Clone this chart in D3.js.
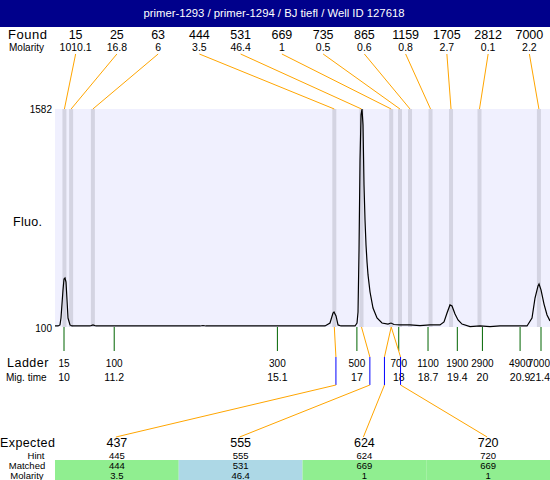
<!DOCTYPE html>
<html>
<head>
<meta charset="utf-8">
<script src="https://cdn.jsdelivr.net/npm/d3@7"></script>
<style>
  body { margin: 0; background: #fff; }
  svg { display: block; font-family: "Liberation Sans", Arial, sans-serif; }
</style>
</head>
<body>
<svg id="chart"></svg>
<script>
// header
let title = "primer-1293 / primer-1294 / BJ tiefl / Well ID 127618";

// found peaks
let foundSizes = [15, 25, 63, 444, 531, 669, 735, 865, 1159, 1705, 2812, 7000];
let foundMolarity = ["1010.1", "16.8", "6", "3.5", "46.4", "1", "0.5", "0.6", "0.8", "2.7", "0.1", "2.2"];
let foundTimes = [10.01, 10.17, 10.69, 16.46, 17.11, 17.82, 18.03, 18.27, 18.76, 19.25, 19.93, 21.35];

// ladder
let ladderSizes = [15, 100, 300, 500, 700, 1100, 1900, 2900, 4900, 7000];
let ladderTimes = [10, 11.2, 15.1, 17, 18, 18.7, 19.4, 20, 20.9, 21.4];

// expected fragments
let expected = [437, 555, 624, 720];
let hint = [445, 555, 624, 720];
let matched = [444, 531, 669, 669];
let matchedMolarity = ["3.5", "46.4", "1", "1"];
let matchStatus = ["ok", "shift", "ok", "ok"];

// fluorescence trace (migration time, fluorescence)
let traceTime = [9.785, 9.857, 9.904, 9.928, 9.976, 10.0, 10.024, 10.048, 10.072, 10.096, 10.143, 10.191,
  10.621, 10.693, 10.765, 13.25, 13.322, 13.394, 16.238, 16.357, 16.429, 16.453, 16.501, 16.549, 16.62,
  16.955, 17.003, 17.027, 17.051, 17.075, 17.099, 17.122, 17.146, 17.17, 17.194, 17.218, 17.242, 17.266, 17.314,
  17.385, 17.481, 17.6, 17.743, 17.815, 17.887, 18.03, 18.269, 18.508, 18.747, 18.986, 19.082, 19.154, 19.225,
  19.273, 19.345, 19.417, 19.512, 19.704, 19.943, 20.181, 20.42, 20.779, 21.066, 21.185, 21.257, 21.329, 21.353,
  21.4, 21.472, 21.544, 21.615];
let traceFluo = [107, 107, 114, 161, 352, 426, 433, 406, 284, 161, 114, 107,
  107, 114, 107, 107, 110, 107, 107, 127, 195, 202, 175, 114, 107,
  107, 127, 202, 624, 1236, 1542, 1582, 1474, 1066, 828, 658, 542, 454, 338,
  229, 161, 127, 120, 127, 117, 114, 114, 110, 114, 114, 134, 195, 250,
  243, 188, 148, 120, 103, 107, 103, 107, 107, 107, 161, 297, 379, 392,
  352, 256, 182, 141];

let width = 550;
let height = 480;
let left = 55;
let right = 550;
let plotTop = 109;
let plotBottom = 327;

let orange = "#ffa500";

let svg = d3.select("#chart").attr("width", width).attr("height", height);

let xScale = d3.scaleLinear().domain([10, 21.4]).range([64, 541]);
let yScale = d3.scaleLinear().domain([100, 1582]).range([plotBottom, plotTop]);
let sizeToTime = d3.scaleLog().domain(ladderSizes).range(ladderTimes);

let foundCols = d3.scaleBand().domain(d3.range(foundSizes.length)).range([left, right]);
let expCols = d3.scaleBand().domain(d3.range(expected.length)).range([left, right]);

//keep a centered label inside the picture
function clampRight(sel) {
  sel.each(function () {
    let w = this.getComputedTextLength();
    let x = +this.getAttribute("x");
    if (x + w / 2 > width) this.setAttribute("x", width - w / 2);
  });
}

//header bar
svg.append("rect").attr("x", 0).attr("y", 0).attr("width", width).attr("height", 27).attr("fill", "#00008b");
svg.append("text").attr("x", 274).attr("y", 17).attr("text-anchor", "middle")
  .attr("fill", "#fff").style("font-size", "11.3px").text(title);

//found rows
svg.append("text").attr("x", 8).attr("y", 39).style("font-size", "13px").style("letter-spacing", "0.5px").text("Found");
svg.append("text").attr("x", 9).attr("y", 51).style("font-size", "10px").text("Molarity");

svg.selectAll(".found").data(foundSizes).join("text")
  .attr("class", "found")
  .attr("x", (d, i) => foundCols(i) + foundCols.bandwidth() / 2)
  .attr("y", 39).attr("text-anchor", "middle").style("font-size", "12.5px")
  .text((d) => d);

svg.selectAll(".fmol").data(foundMolarity).join("text")
  .attr("class", "fmol")
  .attr("x", (d, i) => foundCols(i) + foundCols.bandwidth() / 2)
  .attr("y", 51).attr("text-anchor", "middle").style("font-size", "10.5px")
  .text((d) => d);

//plot background
svg.append("rect").attr("x", left).attr("y", plotTop)
  .attr("width", right - left).attr("height", plotBottom - plotTop).attr("fill", "#f0f0fe");

//peak bands
svg.selectAll(".band").data(foundTimes).join("rect")
  .attr("class", "band")
  .attr("x", (d) => xScale(d) - 2).attr("y", plotTop)
  .attr("width", 4).attr("height", plotBottom - plotTop)
  .attr("fill", "#d4d4e2");

//found connectors
svg.selectAll(".fline").data(foundTimes).join("line")
  .attr("class", "fline")
  .attr("x1", (d, i) => foundCols(i) + foundCols.bandwidth() / 2)
  .attr("y1", 54)
  .attr("x2", (d) => xScale(d)).attr("y2", plotTop)
  .attr("stroke", orange).attr("stroke-width", 1);

//y labels
svg.append("text").attr("x", 52).attr("y", 113).attr("text-anchor", "end").style("font-size", "10px").text("1582");
svg.append("text").attr("x", 52).attr("y", 332).attr("text-anchor", "end").style("font-size", "10px").text("100");
svg.append("text").attr("x", 13).attr("y", 226).style("font-size", "12.5px").style("letter-spacing", "0.3px").text("Fluo.");

//trace
let trace = traceTime.map((t, i) => ({ t: t, f: traceFluo[i] }));
svg.append("path").datum(trace)
  .attr("fill", "none").attr("stroke", "#000").attr("stroke-width", 1.2)
  .attr("d", d3.line().x((d) => xScale(d.t)).y((d) => yScale(d.f)));

//ladder
svg.selectAll(".lline").data(ladderTimes).join("line")
  .attr("class", "lline")
  .attr("x1", (d) => xScale(d)).attr("x2", (d) => xScale(d))
  .attr("y1", plotBottom).attr("y2", 351)
  .attr("stroke", "#006400").attr("stroke-width", 1);

svg.append("text").attr("x", 7).attr("y", 367).style("font-size", "12.5px").style("letter-spacing", "0.5px").text("Ladder");
svg.append("text").attr("x", 6).attr("y", 381).style("font-size", "10px").text("Mig. time");

svg.selectAll(".lsize").data(ladderSizes).join("text")
  .attr("class", "lsize")
  .attr("x", (d, i) => xScale(ladderTimes[i]))
  .attr("y", 367).attr("text-anchor", "middle").style("font-size", "10px")
  .text((d) => d)
  .call(clampRight);

svg.selectAll(".ltime").data(ladderTimes).join("text")
  .attr("class", "ltime")
  .attr("x", (d) => xScale(d))
  .attr("y", 381).attr("text-anchor", "middle").style("font-size", "10.5px")
  .text((d) => d)
  .call(clampRight);

//expected connectors
expected.forEach((e, i) => {
  let peakX = xScale(foundTimes[foundSizes.indexOf(matched[i])]);
  let markX = xScale(sizeToTime(e));
  let cx = expCols(i) + expCols.bandwidth() / 2 - 1;
  svg.append("line").attr("x1", peakX).attr("y1", plotBottom).attr("x2", markX).attr("y2", 357)
    .attr("stroke", orange);
  svg.append("line").attr("x1", markX).attr("y1", 357).attr("x2", markX).attr("y2", 385)
    .attr("stroke", "#0000ff");
  svg.append("line").attr("x1", markX).attr("y1", 385).attr("x2", cx).attr("y2", 437)
    .attr("stroke", orange);
});

//expected table
let statusColor = { ok: "#90ee90", shift: "#add8e6" };
svg.selectAll(".cell").data(matchStatus).join("rect")
  .attr("class", "cell")
  .attr("x", (d, i) => expCols(i)).attr("y", 460)
  .attr("width", expCols.bandwidth()).attr("height", 20)
  .attr("fill", (d) => statusColor[d]);

svg.append("text").attr("x", 0).attr("y", 447).style("font-size", "12.5px").style("letter-spacing", "0.4px").text("Expected");
svg.append("text").attr("x", 36).attr("y", 458.5).attr("text-anchor", "middle").style("font-size", "9.5px").text("Hint");
svg.append("text").attr("x", 27).attr("y", 469).attr("text-anchor", "middle").style("font-size", "9.5px").text("Matched");
svg.append("text").attr("x", 27).attr("y", 479).attr("text-anchor", "middle").style("font-size", "9.5px").text("Molarity");

let rows = [
  { vals: expected, y: 447, size: "12.5px" },
  { vals: hint, y: 458.5, size: "9.5px" },
  { vals: matched, y: 469, size: "9.5px" },
  { vals: matchedMolarity, y: 479, size: "9.5px" },
];
rows.forEach((r) => {
  svg.append("g").selectAll("text").data(r.vals).join("text")
    .attr("x", (d, i) => expCols(i) + expCols.bandwidth() / 2)
    .attr("y", r.y).attr("text-anchor", "middle").style("font-size", r.size)
    .text((d) => d);
});
</script>
</body>
</html>
